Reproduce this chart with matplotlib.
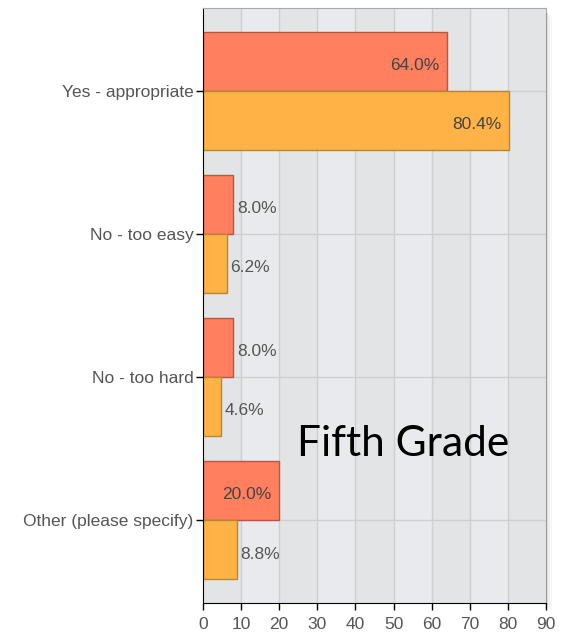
"""Survey chart: is the difficulty appropriate? (Fifth Grade)"""
import matplotlib
matplotlib.use("Agg")
import matplotlib.pyplot as plt
import numpy as np
from matplotlib.patches import Rectangle

categories = ["Yes - appropriate", "No - too easy", "No - too hard", "Other (please specify)"]
series_a = [64.0, 8.0, 8.0, 20.0]
series_b = [80.4, 6.2, 4.6, 8.8]
x_ticks = [0, 10, 20, 30, 40, 50, 60, 70, 80, 90]

RED = "#ff7f5f"
RED_EDGE = "#b8573f"
ORANGE = "#ffb347"
ORANGE_EDGE = "#b88633"
TXT = "#444444"


def run():
    plt.rcParams["font.family"] = ["Liberation Sans", "DejaVu Sans"]
    fig = plt.figure(figsize=(5.74, 6.4), dpi=100)
    ax = fig.add_axes([203 / 574, 37 / 640, 343 / 574, 595 / 640])

    # soft shadow right of the plot area
    for i, a in enumerate([0.10, 0.06, 0.03]):
        fig.patches.append(Rectangle((546 / 574 + i * 2 / 574, 37 / 640 - (i + 1) * 2 / 640),
                                     2 / 574, 592 / 640, transform=fig.transFigure,
                                     color="black", alpha=a, lw=0))

    # alternating background columns
    for i in range(9):
        ax.axvspan(i * 10, i * 10 + 10, color="#e3e4e6" if i % 2 == 0 else "#e9eaed",
                   lw=0, zorder=0)
    for xv in x_ticks[1:-1]:
        ax.axvline(xv, color="#cfcfcf", lw=1, zorder=1)

    y = np.arange(len(categories))
    h = 0.415
    for yc in y:
        ax.axhline(yc, color="#cfcfcf", lw=1, zorder=1)

    ax.barh(y - h / 2, series_a, height=h, color=RED, edgecolor=RED_EDGE, lw=1, zorder=2)
    ax.barh(y + h / 2, series_b, height=h, color=ORANGE, edgecolor=ORANGE_EDGE, lw=1, zorder=2)

    for vals, off in ((series_a, -h / 2), (series_b, h / 2)):
        for yc, v in zip(y, vals):
            if v >= 15:
                ax.text(v - 2.0, yc + off + 0.03, f"{v:.1f}%", ha="right", va="center",
                        fontsize=12.5, color=TXT, zorder=3)
            else:
                ax.text(v + 1.0, yc + off + 0.03, f"{v:.1f}%", ha="left", va="center",
                        fontsize=12.5, color="#555555", zorder=3)

    ax.set_xlim(0, 90)
    ax.set_ylim(3.58, -0.58)
    ax.set_xticks(x_ticks)
    ax.set_yticks(y)
    ax.set_yticklabels(categories)
    ax.tick_params(axis="both", direction="out", length=5, width=1, color="black",
                   labelsize=12.5, labelcolor="#555555")
    ax.tick_params(axis="x", pad=5)
    ax.tick_params(axis="y", pad=2)
    ax.spines["left"].set_color("black")
    ax.spines["bottom"].set_color("black")
    ax.spines["top"].set_color("#aaaaaa")
    ax.spines["right"].set_color("#aaaaaa")

    fig.text(297 / 574, 1 - 444 / 640, "Fifth Grade", fontsize=30.5, family=["Lato", "DejaVu Sans"],
             ha="left", va="center", color="black")

    fig.savefig("out.png", dpi=100)
    plt.close(fig)


if __name__ == "__main__":
    run()
